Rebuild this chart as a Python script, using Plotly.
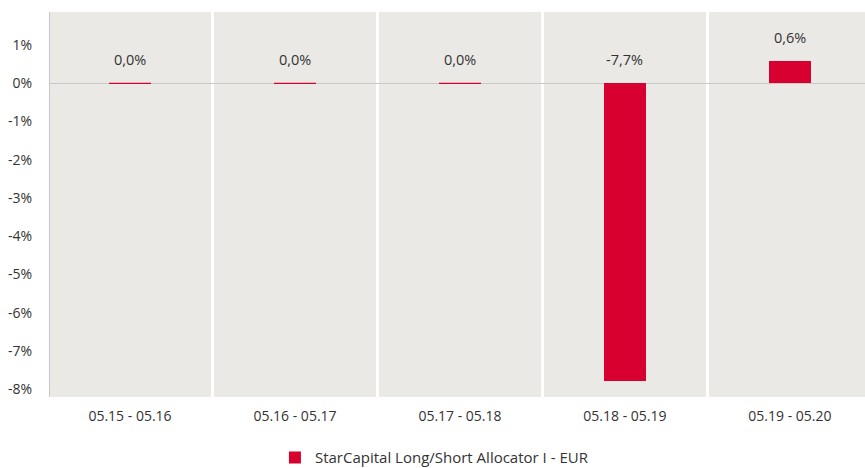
import plotly.graph_objects as go

categories = ["05.15 - 05.16", "05.16 - 05.17", "05.17 - 05.18", "05.18 - 05.19", "05.19 - 05.20"]
values = [0.0, 0.0, 0.0, -7.78, 0.58]
value_labels = ["0,0%", "0,0%", "0,0%", "-7,7%", "0,6%"]
series_name = "StarCapital Long/Short Allocator I - EUR"
y_ticks = [1, 0, -1, -2, -3, -4, -5, -6, -7, -8]
y_tick_labels = ["1%", "0%", "-1%", "-2%", "-3%", "-4%", "-5%", "-6%", "-7%", "-8%"]

RED = "#d7002e"
TEXT = "#333333"
FONT = "Open Sans"

fig = go.Figure()
fig.add_trace(go.Bar(
    x=categories, y=values, width=0.255, name=series_name,
    marker=dict(color=RED, line=dict(width=0)), hoverinfo="skip",
))
# zero-valued bars are shown as a thin red line
fig.add_trace(go.Scatter(
    x=categories, y=values, mode="markers", showlegend=False, hoverinfo="skip",
    marker=dict(symbol="line-ew", size=30, color=RED,
                opacity=[1 if v == 0 else 0 for v in values],
                line=dict(color=RED, width=1.3)),
))

for c, v, lbl in zip(categories, values, value_labels):
    fig.add_annotation(x=c, y=max(v, 0), text=lbl, showarrow=False,
                       yanchor="bottom", yshift=12,
                       font=dict(family=FONT, size=14.5, color=TEXT))

fig.update_layout(
    width=865, height=468,
    margin=dict(l=50, r=0, t=12, b=71, autoexpand=False),
    paper_bgcolor="white", plot_bgcolor="#ebe9e6",
    font=dict(family=FONT, size=14, color=TEXT),
    bargap=0,
    legend=dict(orientation="h", x=0.276, xanchor="left", y=-0.158, yanchor="middle",
                font=dict(family=FONT, size=15, color=TEXT)),
    xaxis=dict(type="category", range=[-0.485, 4.455], tickson="boundaries",
               showgrid=True, gridcolor="white", gridwidth=3,
               ticks="", ticklabelstandoff=9,
               showline=False, zeroline=False, fixedrange=True),
    yaxis=dict(range=[-8.20, 1.864], tickvals=y_ticks, ticktext=y_tick_labels,
               showgrid=False, zeroline=True, zerolinecolor="#c8c8c8", zerolinewidth=1,
               showline=True, linecolor="#c8c8c8", linewidth=1,
               ticks="outside", ticklen=14, tickcolor="rgba(0,0,0,0)", fixedrange=True),
)

fig.write_html("out.html", config={"displayModeBar": False, "staticPlot": True},
               post_script="document.body.style.margin='0';document.body.style.padding='0';")
